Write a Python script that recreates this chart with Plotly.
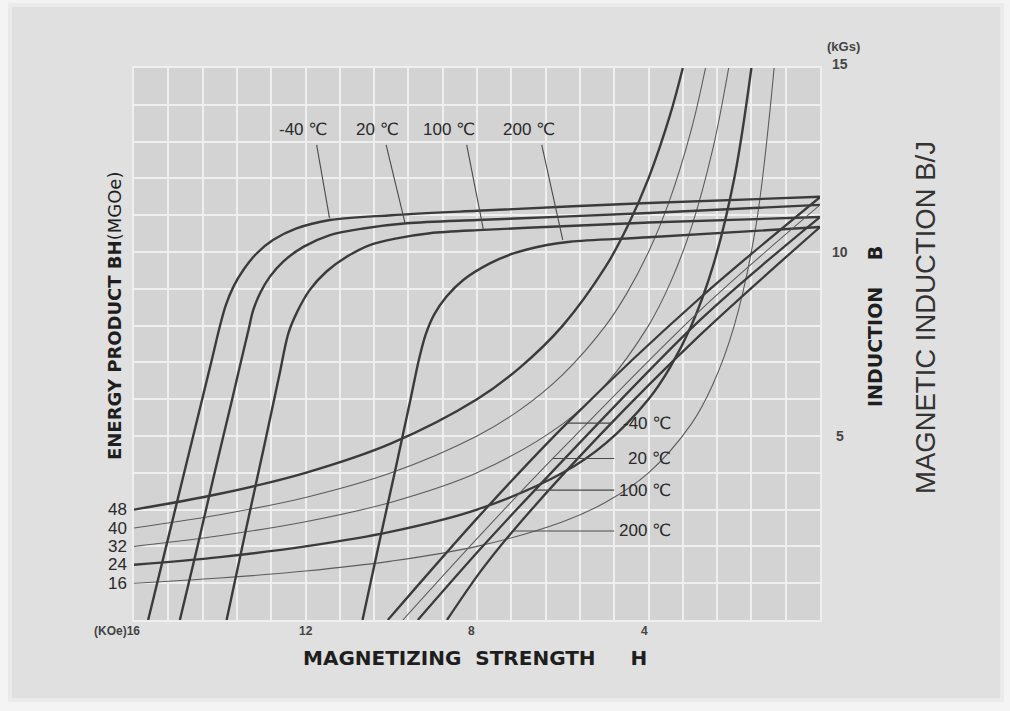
import plotly.graph_objects as go

# ---------------- data (H in kOe, B/J in kGs) ----------------
# energy product iso-lines BH = const (MGOe)
bh_levels = [48, 40, 32, 24, 16]
bh48_H = [16, 14, 12, 10, 8, 7, 6, 5, 4.5, 4, 3.5, 3.2]
bh48_B = [3.0, 3.43, 4.0, 4.8, 6.0, 6.86, 8.0, 9.6, 10.67, 12.0, 13.71, 15.0]
bh40_H = [16, 14, 12, 10, 8, 7, 6, 5, 4.5, 4, 3.5, 3.0, 2.67]
bh40_B = [2.5, 2.86, 3.33, 4.0, 5.0, 5.71, 6.67, 8.0, 8.89, 10.0, 11.43, 13.33, 15.0]
bh32_H = [16, 14, 12, 10, 8, 6, 5, 4, 3.5, 3.0, 2.5, 2.13]
bh32_B = [2.0, 2.29, 2.67, 3.2, 4.0, 5.33, 6.4, 8.0, 9.14, 10.67, 12.8, 15.0]
bh24_H = [16, 14, 12, 10, 8, 6, 5, 4, 3.5, 3.0, 2.5, 2.0, 1.6]
bh24_B = [1.5, 1.71, 2.0, 2.4, 3.0, 4.0, 4.8, 6.0, 6.86, 8.0, 9.6, 12.0, 15.0]
bh16_H = [16, 14, 12, 10, 8, 6, 5, 4, 3.0, 2.5, 2.0, 1.5, 1.07]
bh16_B = [1.0, 1.14, 1.33, 1.6, 2.0, 2.67, 3.2, 4.0, 5.33, 6.4, 8.0, 10.67, 15.0]

# intrinsic curves J(H)
temps = ["-40 ℃", "20 ℃", "100 ℃", "200 ℃"]
jm40_H = [0, 4, 8, 10, 11.43, 12.21, 12.75, 13.14, 13.45, 13.68, 13.86, 14.0, 14.2, 14.41, 14.83, 15.25, 15.67]
jm40_B = [11.5, 11.33, 11.12, 11.0, 10.87, 10.64, 10.33, 9.96, 9.51, 9.06, 8.55, 7.97, 7.0, 6.0, 4.0, 2.0, 0]
j20_H = [0, 4, 6, 8, 9.64, 10.65, 11.43, 12.05, 12.52, 12.83, 13.06, 13.22, 13.33, 13.52, 13.71, 14.12, 14.52, 14.93]
j20_B = [11.28, 11.06, 10.96, 10.87, 10.78, 10.64, 10.46, 10.14, 9.74, 9.33, 8.88, 8.42, 7.88, 6.95, 6.0, 4.0, 2.0, 0]
j100_H = [0, 4, 6, 7.85, 9.1, 9.87, 10.5, 11.04, 11.51, 11.9, 12.2, 12.4, 12.62, 12.95, 13.4, 13.84]
j100_B = [10.95, 10.8, 10.7, 10.6, 10.51, 10.37, 10.19, 9.87, 9.47, 8.97, 8.36, 7.79, 6.6, 4.8, 2.4, 0]
j200_H = [0, 4, 5.83, 6.37, 7.15, 7.7, 8.32, 8.71, 9.0, 9.2, 9.35, 9.55, 9.92, 10.3, 10.67]
j200_B = [10.68, 10.4, 10.28, 10.19, 9.96, 9.69, 9.24, 8.79, 8.3, 7.75, 7.1, 6.0, 4.0, 2.0, 0]

# normal curves B(H)
bm40_H = [0, 2.8, 5.9, 7.93, 10.08]
bm40_B = [11.49, 8.75, 5.35, 2.85, 0]
b20_H = [0, 2.8, 6.23, 7.93, 9.73]
b20_B = [11.28, 8.41, 4.39, 2.3, 0]
b100_H = [0, 2.8, 6.65, 7.93, 9.38]
b100_B = [10.95, 8.15, 3.53, 1.92, 0]
b200_H = [0, 2.8, 5.13, 7.16, 7.93, 8.7]
b200_B = [10.68, 7.74, 5.03, 2.42, 1.3, 0]

# tick labels
x_tick_vals = [16, 12, 8, 4]
x_tick_text = ["(KOe)16", "12", "8", "4"]
y_tick_vals = [15, 10, 5]
y_tick_text = ["15", "10", "5"]

# ---------------- styles ----------------
THICK = dict(color="#3b3b3b", width=2.4)
THIN = dict(color="#5c5c5c", width=1.1)
TXT = "#2a2a2a"
BOLD_FONT = "DejaVu Sans"
REG_FONT = "Liberation Sans, Arial, DejaVu Sans"

fig = go.Figure()


def add_curve(h, b, style, smooth=0.8):
    fig.add_trace(go.Scatter(x=h, y=b, mode="lines", line=dict(**style, shape="spline", smoothing=smooth),
                             hoverinfo="skip", showlegend=False))


# energy product curves
bh_series = [(bh48_H, bh48_B, THICK), (bh40_H, bh40_B, THIN), (bh32_H, bh32_B, THIN),
             (bh24_H, bh24_B, THICK), (bh16_H, bh16_B, THIN)]
for h, b, st in bh_series:
    add_curve(h, b, st, 1.0)

# intrinsic J curves
for h, b in [(jm40_H, jm40_B), (j20_H, j20_B), (j100_H, j100_B), (j200_H, j200_B)]:
    add_curve(h, b, THICK, 0.9)

# normal B curves
for h, b, st in [(bm40_H, bm40_B, THICK), (b20_H, b20_B, THIN), (b100_H, b100_B, THICK), (b200_H, b200_B, THICK)]:
    add_curve(h, b, dict(color=st["color"], width=st["width"] * 0.95), 0.9)

# ---------------- background panel ----------------
PX_L, PX_R, PX_T, PX_B = 134, 820, 68, 620
PW, PH = PX_R - PX_L, PX_B - PX_T


def px_x(p):
    return (p - PX_L) / PW


def px_y(p):
    return (PX_B - p) / PH


shapes = [
    dict(type="rect", xref="paper", yref="paper", x0=px_x(10), x1=px_x(1002), y0=px_y(700), y1=px_y(5),
         fillcolor="#e0e0e0", line=dict(color="#ebebeb", width=4), layer="below"),
    dict(type="rect", xref="x domain", yref="y domain", x0=0, x1=1, y0=0, y1=1,
         fillcolor="#d3d3d3", line=dict(width=0), layer="below"),
]

# ---------------- temperature labels with leaders ----------------
top_labels = [  # text, text H, text B, leader start (H,B), leader end (H,B)
    (temps[0], 12.06, 13.34, (11.74, 12.91), (11.44, 10.92)),
    (temps[1], 10.31, 13.34, (10.12, 12.91), (9.68, 10.79)),
    (temps[2], 8.65, 13.34, (8.24, 12.91), (7.85, 10.6)),
    (temps[3], 6.79, 13.34, (6.49, 12.91), (6.0, 10.33)),
]
bottom_labels = [  # text, B level, leader left H, leader right H
    (temps[0], 5.35, 5.91, 4.84),
    (temps[1], 4.39, 6.23, 4.8),
    (temps[2], 3.53, 6.65, 4.8),
    (temps[3], 2.42, 7.16, 4.8),
]
LABEL_RIGHT_H = 3.43

annotations = []
for t, hx, by, p0, p1 in top_labels:
    annotations.append(dict(x=hx, y=by, xref="x", yref="y", text=t, showarrow=False,
                            font=dict(family=REG_FONT, size=17, color=TXT), xanchor="center", yanchor="middle"))
    shapes.append(dict(type="line", xref="x", yref="y", x0=p0[0], y0=p0[1], x1=p1[0], y1=p1[1],
                       line=dict(color="#4a4a4a", width=1.1)))
for t, by, hl, hr in bottom_labels:
    annotations.append(dict(x=LABEL_RIGHT_H, y=by, xref="x", yref="y", text=t, showarrow=False,
                            font=dict(family=REG_FONT, size=17, color=TXT), xanchor="right", yanchor="middle"))
    shapes.append(dict(type="line", xref="x", yref="y", x0=hl, y0=by, x1=hr, y1=by,
                       line=dict(color="#4a4a4a", width=1.1)))

# energy product labels at left edge
for lvl, b in zip(bh_levels, [s[1][0] for s in bh_series]):
    annotations.append(dict(x=16, y=b, xref="x", yref="y", text=str(lvl), showarrow=False, xanchor="right",
                            yanchor="middle", xshift=-5, font=dict(family=REG_FONT, size=17, color=TXT)))

# x tick labels
for v, t, dx in zip(x_tick_vals, x_tick_text, [8, 0, -6, -4]):
    annotations.append(dict(x=v, y=0, xref="x", yref="y", text=t, showarrow=False,
                            xanchor="right" if v == 16 else "center", yanchor="top", yshift=-2, xshift=dx,
                            font=dict(family=REG_FONT, size=12, color="#444444", weight="bold")))

# y tick labels (right)
for v, t, dy in zip(y_tick_vals, y_tick_text, [4, 0, 0]):
    annotations.append(dict(x=0, y=v, xref="x", yref="y", text=t, showarrow=False, xanchor="center",
                            yanchor="middle", xshift=20, yshift=dy,
                            font=dict(family=REG_FONT, size=14, color="#444444", weight="bold")))
annotations.append(dict(x=0, y=15, xref="x", yref="y", text="(kGs)", showarrow=False, xanchor="center",
                        yanchor="middle", xshift=23, yshift=22,
                        font=dict(family=REG_FONT, size=13, color="#444444", weight="bold")))

NB = "\u00a0"
# axis titles
annotations += [
    dict(xref="paper", yref="paper", x=px_x(475), y=px_y(672), showarrow=False,
         text="<b>MAGNETIZING" + NB * 2 + "STRENGTH" + NB * 5 + "H</b>",
         font=dict(family=BOLD_FONT, size=20, color="#1e1e1e")),
    dict(xref="paper", yref="paper", x=px_x(101.5), y=px_y(316), showarrow=False, textangle=-90,
         text="<b>ENERGY PRODUCT BH</b>(MGOe)",
         font=dict(family=BOLD_FONT, size=18, color="#1e1e1e")),
    dict(xref="paper", yref="paper", x=px_x(888), y=px_y(327), showarrow=False, textangle=-90,
         text="<b>INDUCTION" + NB * 4 + "B</b>",
         font=dict(family=BOLD_FONT, size=19, color="#1e1e1e")),
    dict(xref="paper", yref="paper", x=px_x(943), y=px_y(317.5), showarrow=False, textangle=-90,
         text="MAGNETIC INDUCTION B/J",
         font=dict(family=REG_FONT, size=27.5, color="#333333")),
]

fig.update_layout(
    width=1010, height=711,
    margin=dict(l=PX_L, r=1010 - PX_R, t=PX_T, b=711 - PX_B),
    paper_bgcolor="#f4f4f4",
    plot_bgcolor="#d3d3d3",
    shapes=shapes,
    annotations=annotations,
    showlegend=False,
)
fig.update_xaxes(range=[16, 0], tick0=0, dtick=0.8, showticklabels=False, ticks="",
                 showgrid=True, gridcolor="#efefef", gridwidth=1.6, zeroline=False,
                 showline=True, linecolor="#efefef", linewidth=1.6, mirror=True)
fig.update_yaxes(range=[0, 15], tick0=0, dtick=1, showticklabels=False, ticks="",
                 showgrid=True, gridcolor="#efefef", gridwidth=1.6, zeroline=False,
                 showline=True, linecolor="#efefef", linewidth=1.6, mirror=True)

fig.write_html("out.html", config={"displayModeBar": False},
               post_script="document.body.style.margin='0px';document.body.style.overflow='hidden';")
